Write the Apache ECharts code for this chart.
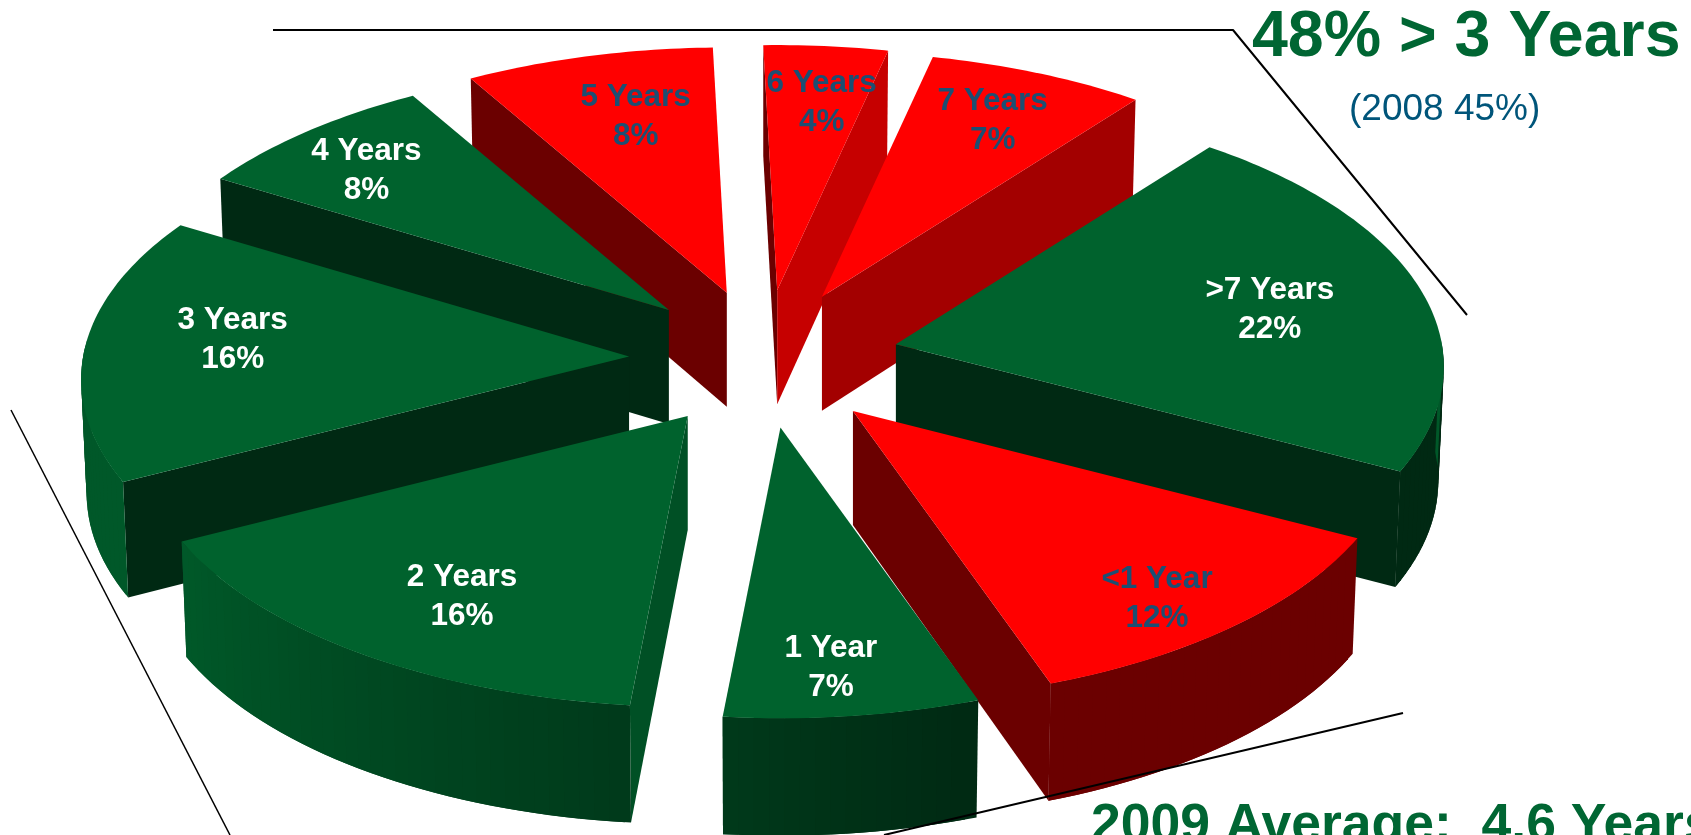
<!DOCTYPE html>
<html><head><meta charset="utf-8">
<style>html,body{margin:0;padding:0;background:#fff}#c{width:1691px;height:835px}</style>
<script src="https://cdn.jsdelivr.net/npm/echarts@6/dist/echarts.min.js"></script>
</head><body><div id="c"></div>
<script>
// ---- data (clockwise from the top right)
const categories = ['>7 Years','<1 Year','1 Year','2 Years','3 Years','4 Years','5 Years','6 Years','7 Years'];
const percents   = [22,12,7,16,16,8,8,4,7];
const groups     = ['g','r','g','g','g','g','r','r','r'];
const labelReach = [.70,.885,.885,.78,.73,.77,.69,.72,.74];
const labelTurn  = [.5,2.2,1,-2.4,4,-1.2,2,.9,-.4];

// ---- layout of the tilted pie, in axis units
const startDeg = -52;
const center = [764,359], explode = [135,69], radius = [546,268], depth = 114, labelDrop = 4;
const topColor = {g:[0,98,45], r:[255,0,0]};
const labelColor = {g:'#ffffff', r:'#1c4f73'};
const rad = d => d*Math.PI/180;
const mix = (c,s) => `rgb(${c.map(v=>Math.round(v*s)).join(',')})`;

const slices = []; let cum = startDeg;
percents.forEach((p,i)=>{ slices.push({a0:cum, a1:cum+p*3.6, mid:cum+p*1.8}); cum += p*3.6; });
const drawOrder = slices.map((_,i)=>i).sort((a,b)=>Math.sin(rad(slices[a].mid))-Math.sin(rad(slices[b].mid)));

const persp = t => 1.0 + 0.085*Math.sin(rad(t));
const apex = s => [center[0]+explode[0]*Math.cos(rad(s.mid)), center[1]+explode[1]*Math.sin(rad(s.mid))];
const topPt = (s,t,r) => { const a=apex(s), f=r*persp(t); return [a[0]+radius[0]*f*Math.cos(rad(t)), a[1]+radius[1]*f*Math.sin(rad(t))]; };
const drop = (p,t) => [center[0]+(p[0]-center[0])*.992, p[1]+depth*(1+.03*Math.sin(rad(t)))];

function radialShade(n){ return n<=36 ? .84-.005*n : n<=60 ? .66-(n-36)*.0096 : .42; }
function outerShade(t){
  const d=((t%360)+360)%360;
  if(d>=150) return .9;
  if(d>=96) return .6+(d-96)*.3/54;
  if(d>=70) return .42+(d-70)*.18/26;
  return .42;
}

function renderSlice(params, api){
  const i = api.value(0), s = slices[i], base = topColor[groups[i]];
  const C = p => api.coord(p);
  const kids = [];
  const poly = (pts,fill) => kids.push({type:'polygon',silent:true,shape:{points:pts.map(C)},style:{fill}});
  const a = apex(s), aB = [a[0],a[1]+depth];
  // radial walls
  [[s.a0,-90],[s.a1,90]].forEach(([t,off])=>{
    let n = ((t+off)%360+540)%360-180;
    if(Math.sin(rad(t+off))<=0) return;
    const e = topPt(s,t,1);
    poly([a,e,drop(e,t),aB], mix(base,radialShade(Math.abs(n))));
  });
  // outer wall in narrow overlapping strips, so that its shade follows the rim
  const step=1.5;
  for(let t=s.a1-step;t>s.a0-step;t-=step){
    const lo=Math.max(t,s.a0), hi=Math.min(t+step*2,s.a1), m=t+step/2;
    if(Math.sin(rad(m))<-.03) continue;
    const p=topPt(s,lo,1), q=topPt(s,hi,1);
    poly([p,q,drop(q,hi),drop(p,lo)], mix(base,outerShade(m)));
  }
  // top face
  const pts=[a]; for(let t=s.a0;t<s.a1;t+=1) pts.push(topPt(s,t,1)); pts.push(topPt(s,s.a1,1));
  poly(pts, mix(base,1));
  // label
  const phi=s.mid+labelTurn[i];
  const L = C([a[0]+radius[0]*labelReach[i]*Math.cos(rad(phi)), a[1]+labelDrop+radius[1]*labelReach[i]*Math.sin(rad(phi))]);
  kids.push({type:'text',silent:true,x:L[0],y:L[1],z2:5,style:{
    text:categories[i]+'\n'+percents[i]+'%', fill:labelColor[groups[i]],
    font:'bold 31.5px "Liberation Sans"', lineHeight:39, align:'center', verticalAlign:'middle'}});
  return {type:'group',children:kids};
}

const txt = (text,x,y,size,fill,weight,extra) => ({type:'text',silent:true,z:20,x,y,style:Object.assign({
  text,fill,font:`${weight} ${size}px "Liberation Sans"`,align:'left',verticalAlign:'middle'},extra||{})});

const chart = echarts.init(document.getElementById('c'),null,{renderer:'canvas'});
chart.setOption({
  animation:false, backgroundColor:'#fff',
  grid:{left:0,right:0,top:0,bottom:0},
  xAxis:{type:'value',min:0,max:1691,show:false},
  yAxis:{type:'value',min:0,max:835,inverse:true,show:false},
  series:[
    {type:'custom',coordinateSystem:'cartesian2d',clip:false,z:2,data:drawOrder.map(i=>[i]),renderItem:renderSlice,silent:true},
    {type:'line',z:10,symbol:'none',silent:true,lineStyle:{color:'#000',width:2},data:[[273,30],[1233,30],[1467,315]]},
    {type:'line',z:10,symbol:'none',silent:true,lineStyle:{color:'#000',width:1.5},data:[[11,410],[230,835]]},
    {type:'line',z:10,symbol:'none',silent:true,lineStyle:{color:'#000',width:2},data:[[884,835],[1403,713]]}
  ],
  graphic:[
    txt('48% > 3 Years',1252,38,64.5,'#006633','bold'),
    txt('(2008 45%)',1349,110,37,'#00557a','normal'),
    txt('2009 Average:  4.6 Years',1091,826,53.5,'#006633','bold',{textShadowColor:'#b0b0b0',textShadowOffsetX:3,textShadowOffsetY:3,textShadowBlur:0})
  ]
});
</script></body></html>
